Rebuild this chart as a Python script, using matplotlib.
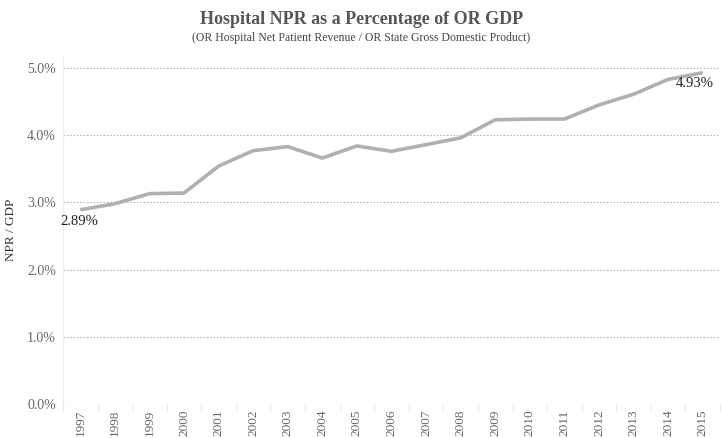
import matplotlib
matplotlib.use("Agg")
import matplotlib.pyplot as plt
from matplotlib.ticker import FuncFormatter, FixedLocator
import numpy as np

years = list(range(1997, 2016))
npr_gdp = [2.89, 2.98, 3.13, 3.14, 3.54, 3.77, 3.83, 3.66, 3.84, 3.76,
           3.86, 3.96, 4.23, 4.24, 4.24, 4.45, 4.61, 4.83, 4.93]
y_ticks = [0, 1, 2, 3, 4, 5]

plt.rcParams['font.family'] = ['Liberation Serif', 'DejaVu Serif']

fig = plt.figure(figsize=(7.23, 4.38), dpi=100)
ax = fig.add_axes([63/723, 1-404/438, 657/723, (404-55)/438])

x = np.arange(len(years))
ax.plot(x, npr_gdp, color='#b0b0b0', lw=2.6, solid_capstyle='butt', zorder=3)

ax.set_xlim(-0.5, len(years) - 0.5)
ax.set_ylim(0, (404-55)/67.2)
ax.set_yticks(y_ticks)
ax.yaxis.set_major_formatter(FuncFormatter(lambda v, p: f"{v:.1f}%"))
for t in y_ticks:
    ax.axhline(t, color='#b8b8b8', lw=0.8, ls=(0, (1.5, 1.5)), zorder=1)

ax.set_xticks(x)
ax.set_xticklabels([str(y) for y in years], rotation=90, fontsize=9.5, color='#666666')
ax.tick_params(axis='x', length=0, pad=4)
ax.xaxis.set_minor_locator(FixedLocator(np.arange(-0.5, len(years), 1)))
ax.tick_params(axis='x', which='minor', length=5, color='#e6e6e6', width=0.8)
ax.tick_params(axis='y', length=0, labelsize=10, labelcolor='#666666', pad=5)

for s in ['top', 'right', 'bottom']:
    ax.spines[s].set_visible(False)
ax.spines['left'].set_color('#eeeeee')
ax.spines['left'].set_linewidth(1)

ax.set_ylabel("NPR / GDP", fontsize=9.5, color='#333333', labelpad=7)

ax.annotate(f"{npr_gdp[0]:.2f}%", (x[0], npr_gdp[0]), xytext=(-14, -4),
            textcoords='offset points', ha='left', va='top', fontsize=10.5, color='#222222')
ax.annotate(f"{npr_gdp[-1]:.2f}%", (x[-1], npr_gdp[-1]), xytext=(8, -3),
            textcoords='offset points', ha='right', va='top', fontsize=10.5, color='#222222')

fig.text(0.5, 1-19/438, "Hospital NPR as a Percentage of OR GDP", ha='center', va='center',
         fontsize=13, fontweight='bold', color='#555555')
fig.text(0.5, 1-38/438, "(OR Hospital Net Patient Revenue / OR State Gross Domestic Product)",
         ha='center', va='center', fontsize=8.5, color='#444444')

fig.savefig("out.png", dpi=100)
